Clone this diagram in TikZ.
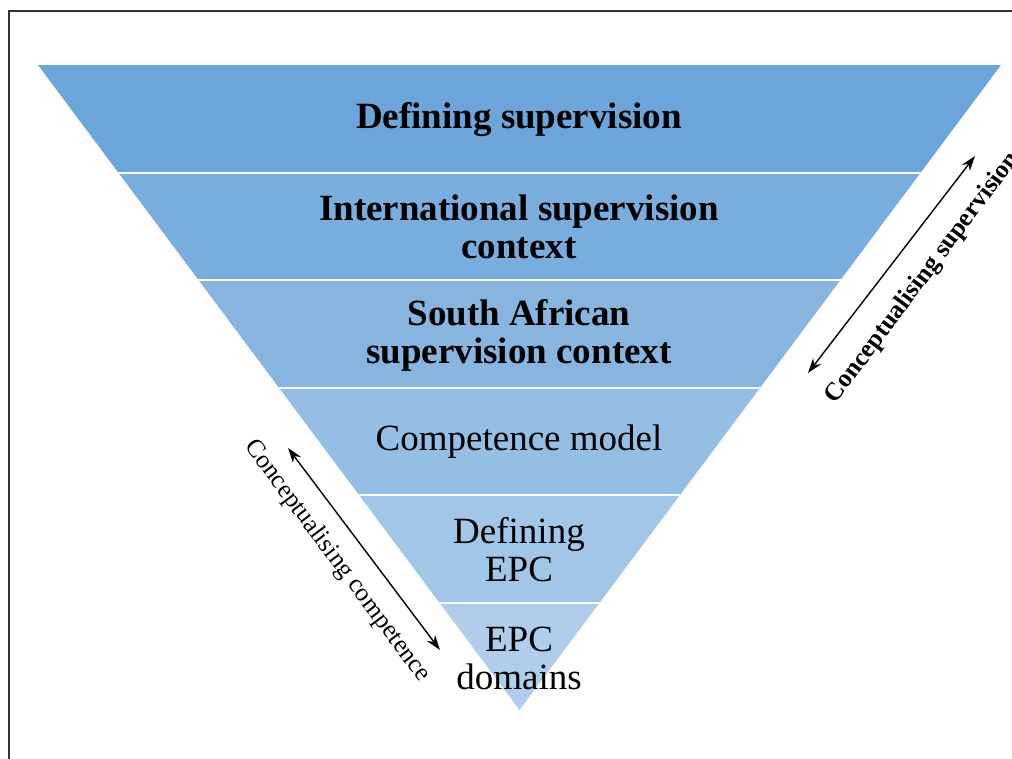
\documentclass[tikz,border=0pt]{standalone}
\usepackage{fontspec}
\setmainfont{Liberation Serif}
\usetikzlibrary{arrows.meta}

\definecolor{band1}{RGB}{107,165,217}
\definecolor{band2}{RGB}{121,173,221}
\definecolor{band3}{RGB}{135,181,224}
\definecolor{band4}{RGB}{148,190,228}
\definecolor{band5}{RGB}{162,198,231}
\definecolor{band6}{RGB}{176,206,235}

\tikzset{
  level/.style={align=center, font=\fontsize{37}{38}\selectfont},
  boldlevel/.style={level, font=\fontsize{37}{38}\selectfont\bfseries},
  sidelabel/.style={font=\fontsize{25.5}{28}\selectfont},
  span/.style={<->, >={Stealth[length=15pt,width=10pt]}, line width=1.4pt}
}

\begin{document}
\begin{tikzpicture}[x=1pt,y=-1pt]
  \useasboundingbox (0,0) rectangle (1012,758);

  % frame round the figure
  \draw[line width=1.4pt, black!80] (9,11) rectangle (1040,790);

  % the funnel
  \begin{scope}
    \clip (38,65) -- (1001,65) -- (519.5,710) -- cycle;
    \foreach \i/\y in {1/65, 2/172.5, 3/280, 4/387.5, 5/495, 6/602.5}
      \fill[band\i] (0,\y) rectangle (1012,\y+108);
    \foreach \y in {172.5, 280, 387.5, 495, 602.5}
      \draw[white, line width=2pt] (0,\y) -- (1012,\y);
  \end{scope}

  \node[boldlevel] (defsup) at (519,120) {Defining supervision};
  \node[boldlevel] (intctx) at (519,227) {International supervision\\context};
  \node[boldlevel] (sactx) at (519,335) {South African\\supervision context};
  \node[level] (compmodel) at (519,442) {Competence model};
  \node[level] (defepc) at (519,550) {Defining\\EPC};
  \node[level] (epcdom) at (519,658) {EPC\\domains};

  % side arrows
  \coordinate (supbot) at (808,373);
  \coordinate (suptop) at (975,156);
  \draw[span] (supbot) -- (suptop);
  \node[sidelabel, font=\fontsize{25.5}{28}\selectfont\bfseries, rotate=53.2] (suplabel) at (923,278) {Conceptualising supervision};

  \coordinate (comptop) at (288,448);
  \coordinate (compbot) at (440,650);
  \draw[span] (comptop) -- (compbot);
  \node[sidelabel, rotate=-53.3] (complabel) at (337,561) {Conceptualising competence};

\end{tikzpicture}
\end{document}
